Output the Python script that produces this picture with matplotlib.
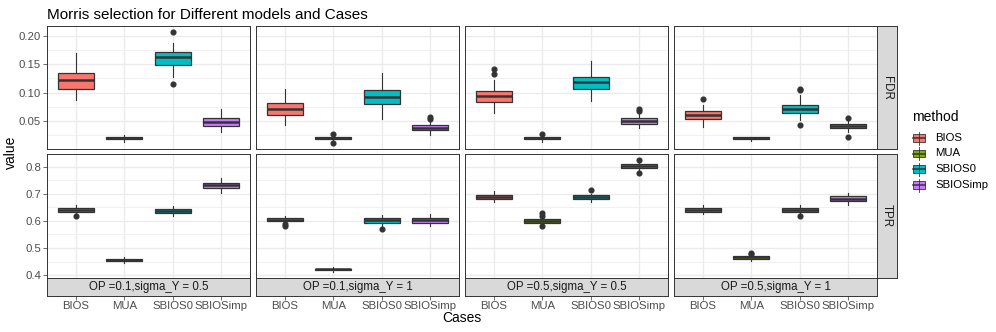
import matplotlib
matplotlib.use('Agg')
import matplotlib.pyplot as plt
import numpy as np
from matplotlib.patches import Rectangle
from matplotlib.ticker import FixedLocator, FixedFormatter

plt.rcParams['font.family'] = ['Liberation Sans', 'DejaVu Sans']

# ---------------- data ----------------
methods = ['BIOS', 'MUA', 'SBIOS0', 'SBIOSimp']
colors = ['#F8766D', '#7CAE00', '#00BFC4', '#C77CFF']
cases = ['OP =0.1,sigma_Y = 0.5', 'OP =0.1,sigma_Y = 1',
         'OP =0.5,sigma_Y = 0.5', 'OP =0.5,sigma_Y = 1']
metrics = ['FDR', 'TPR']

# rows = cases, columns = methods
fdr_med = [[0.122, 0.0200, 0.162, 0.0480],
           [0.071, 0.0197, 0.092, 0.0377],
           [0.0935, 0.0197, 0.119, 0.0504],
           [0.061, 0.0197, 0.072, 0.0412]]
fdr_q1 = [[0.107, 0.0185, 0.149, 0.0412],
          [0.0616, 0.0180, 0.0808, 0.0342],
          [0.0843, 0.0180, 0.107, 0.0452],
          [0.0534, 0.0180, 0.0644, 0.0372]]
fdr_q3 = [[0.134, 0.0215, 0.171, 0.0563],
          [0.0819, 0.0215, 0.104, 0.0424],
          [0.1035, 0.0215, 0.1273, 0.0551],
          [0.0686, 0.0215, 0.079, 0.0452]]
fdr_wlo = [[0.0866, 0.0138, 0.128, 0.0313],
           [0.0424, 0.0160, 0.0539, 0.0260],
           [0.0639, 0.0138, 0.0848, 0.0372],
           [0.0400, 0.0145, 0.0516, 0.0313]]
fdr_whi = [[0.169, 0.0255, 0.1866, 0.0709],
           [0.1058, 0.0240, 0.135, 0.0516],
           [0.1227, 0.0240, 0.1546, 0.0633],
           [0.0778, 0.0220, 0.0953, 0.0500]]
fdr_out = [[[], [], [0.207, 0.1157], []],
           [[], [0.0272, 0.011], [], [0.0575, 0.054]],
           [[0.142, 0.133], [0.0267], [], [0.0721, 0.068]],
           [[0.0883], [], [0.107, 0.104, 0.0424], [0.0557, 0.0225]]]

tpr_med = [[0.640, 0.457, 0.636, 0.733],
           [0.605, 0.4215, 0.602, 0.604],
           [0.689, 0.599, 0.688, 0.803],
           [0.640, 0.465, 0.640, 0.682]]
tpr_q1 = [[0.633, 0.4515, 0.629, 0.723],
          [0.600, 0.417, 0.594, 0.594],
          [0.681, 0.592, 0.680, 0.795],
          [0.633, 0.459, 0.633, 0.674]]
tpr_q3 = [[0.647, 0.461, 0.644, 0.739],
          [0.609, 0.4235, 0.609, 0.612],
          [0.696, 0.6055, 0.695, 0.810],
          [0.647, 0.470, 0.646, 0.690]]
tpr_wlo = [[0.625, 0.4455, 0.619, 0.702],
           [0.594, 0.410, 0.580, 0.582],
           [0.669, 0.588, 0.669, 0.788],
           [0.625, 0.453, 0.629, 0.660]]
tpr_whi = [[0.657, 0.4675, 0.656, 0.757],
           [0.619, 0.431, 0.620, 0.625],
           [0.711, 0.614, 0.699, 0.818],
           [0.657, 0.474, 0.657, 0.702]]
tpr_out = [[[0.618], [], [], []],
           [[0.5887, 0.580], [], [0.570], []],
           [[], [0.629, 0.619, 0.581], [0.714], [0.826, 0.777]],
           [[], [0.482, 0.476], [0.619], []]]

fdr_ticks = [0.05, 0.10, 0.15, 0.20]
fdr_ticklabels = ['0.05', '0.10', '0.15', '0.20']
tpr_ticks = [0.4, 0.5, 0.6, 0.7, 0.8]
tpr_ticklabels = ['0.4', '0.5', '0.6', '0.7', '0.8']

stats_by_metric = {
    'FDR': (fdr_med, fdr_q1, fdr_q3, fdr_wlo, fdr_whi, fdr_out, fdr_ticks, fdr_ticklabels),
    'TPR': (tpr_med, tpr_q1, tpr_q3, tpr_wlo, tpr_whi, tpr_out, tpr_ticks, tpr_ticklabels),
}

# ---------------- layout ----------------
W, H = 996, 332
fig = plt.figure(figsize=(W / 100, H / 100), dpi=100)
fig.patch.set_facecolor('white')

def rect(x0, y0, x1, y1):
    return [x0 / W, 1 - y1 / H, (x1 - x0) / W, (y1 - y0) / H]

panel_x = [(47, 250), (256, 459), (465, 668), (674, 877)]
row_y = [(26, 149), (154, 278)]
strip_bottom = (278, 296)
strip_right = (877, 897)

dark = '#333333'
tick_col = '#4D4D4D'
grid_col = '#EBEBEB'
ticksize = 8.2
stripsize = 8.3

for r, metric in enumerate(metrics):
    med, q1, q3, wlo, whi, out, yt, ytl = stats_by_metric[metric]
    allv = np.concatenate([np.ravel(wlo), np.ravel(whi)] +
                          [np.array(o, float) for row in out for o in row if len(o)])
    lo, hi = allv.min(), allv.max()
    pad = 0.05 * (hi - lo)
    ylim = (lo - pad, hi + pad)
    minor = [(a + b) / 2 for a, b in zip(yt[:-1], yt[1:])]
    minor = [yt[0] - (yt[1] - yt[0]) / 2] + minor + [yt[-1] + (yt[1] - yt[0]) / 2]
    minor = [m for m in minor if ylim[0] < m < ylim[1]]
    for c in range(len(cases)):
        x0, x1 = panel_x[c]
        y0, y1 = row_y[r]
        ax = fig.add_axes(rect(x0, y0, x1, y1))
        ax.set_facecolor('white')
        ax.set_xlim(0.4, 4.6)
        ax.set_ylim(*ylim)
        for m in minor:
            ax.axhline(m, color=grid_col, lw=0.5, zorder=0)
        for t in yt:
            ax.axhline(t, color=grid_col, lw=1.0, zorder=0)
        for xi in range(1, 5):
            ax.axvline(xi, color=grid_col, lw=1.0, zorder=0)
        bstats = []
        for k, mth in enumerate(methods):
            bstats.append(dict(med=med[c][k], q1=q1[c][k], q3=q3[c][k],
                               whislo=wlo[c][k], whishi=whi[c][k],
                               fliers=out[c][k], label=mth))
        bp = ax.bxp(bstats, positions=[1, 2, 3, 4], widths=0.75, patch_artist=True,
                    showcaps=False, manage_ticks=False,
                    boxprops=dict(edgecolor=dark, linewidth=0.9),
                    medianprops=dict(color=dark, linewidth=1.8),
                    whiskerprops=dict(color=dark, linewidth=0.8),
                    flierprops=dict(marker='o', markerfacecolor=dark,
                                    markeredgecolor=dark, markersize=3.4))
        for patch, col in zip(bp['boxes'], colors):
            patch.set_facecolor(col)
        for sp in ax.spines.values():
            sp.set_color(dark)
            sp.set_linewidth(0.7)
            sp.set_zorder(5)
        ax.set_xticks([])
        ax.yaxis.set_major_locator(FixedLocator(yt))
        if c == 0:
            ax.yaxis.set_major_formatter(FixedFormatter(ytl))
            ax.tick_params(axis='y', length=2.75, width=0.5, color=dark,
                           labelsize=ticksize, labelcolor=tick_col, pad=1.5)
        else:
            ax.tick_params(axis='y', length=0, labelleft=False)
        # right strip
        if c == len(cases) - 1:
            sax = fig.add_axes(rect(strip_right[0], y0, strip_right[1], y1))
            sax.set_facecolor('#D9D9D9')
            sax.set_xticks([]); sax.set_yticks([])
            for sp in sax.spines.values():
                sp.set_color(dark); sp.set_linewidth(0.7)
            sax.text(0.5, 0.5, metric, rotation=-90, ha='center', va='center',
                     fontsize=stripsize, color='#1A1A1A', transform=sax.transAxes)
        # bottom strip with x axis
        if r == len(metrics) - 1:
            bax = fig.add_axes(rect(x0, strip_bottom[0], x1, strip_bottom[1]))
            bax.set_facecolor('#D9D9D9')
            bax.set_xlim(0.4, 4.6)
            bax.set_ylim(0, 1)
            bax.set_yticks([])
            bax.set_xticks([1, 2, 3, 4])
            bax.set_xticklabels(methods)
            bax.tick_params(axis='x', length=2.75, width=0.5, color=dark,
                            labelsize=ticksize, labelcolor=tick_col, pad=1.2)
            for sp in bax.spines.values():
                sp.set_color(dark); sp.set_linewidth(0.7)
            bax.text(0.5, 0.5, cases[c], ha='center', va='center',
                     fontsize=stripsize, color='#1A1A1A', transform=bax.transAxes)

# titles
fig.text(47 / W, 1 - 19 / H, 'Morris selection for Different models and Cases',
         fontsize=11, ha='left', va='baseline', color='black')
fig.text(11 / W, 1 - 152 / H, 'value', rotation=90, fontsize=10,
         ha='center', va='center', color='black')
fig.text(462 / W, 1 - 318 / H, 'Cases', fontsize=10, ha='center', va='center',
         color='black')

# legend drawn in pixel coordinates
lax = fig.add_axes([0, 0, 1, 1], zorder=10)
lax.set_xlim(0, W)
lax.set_ylim(H, 0)
lax.axis('off')
lax.patch.set_alpha(0)
lax.text(912, 117, 'method', fontsize=10, ha='left', va='center', color='black')
key_y = [138, 153.5, 169, 185]
for k, mth in enumerate(methods):
    yc = key_y[k]
    lax.plot([919, 919], [yc - 6.5, yc + 6.5], color=dark, lw=0.6)
    lax.add_patch(Rectangle((913, yc - 3.8), 12, 7.6, facecolor=colors[k],
                            edgecolor=dark, lw=0.6))
    lax.plot([913, 925], [yc, yc], color=dark, lw=1.1)
    lax.text(935, yc, mth, fontsize=ticksize, ha='left', va='center', color='black')

fig.savefig('out.png', dpi=100)
